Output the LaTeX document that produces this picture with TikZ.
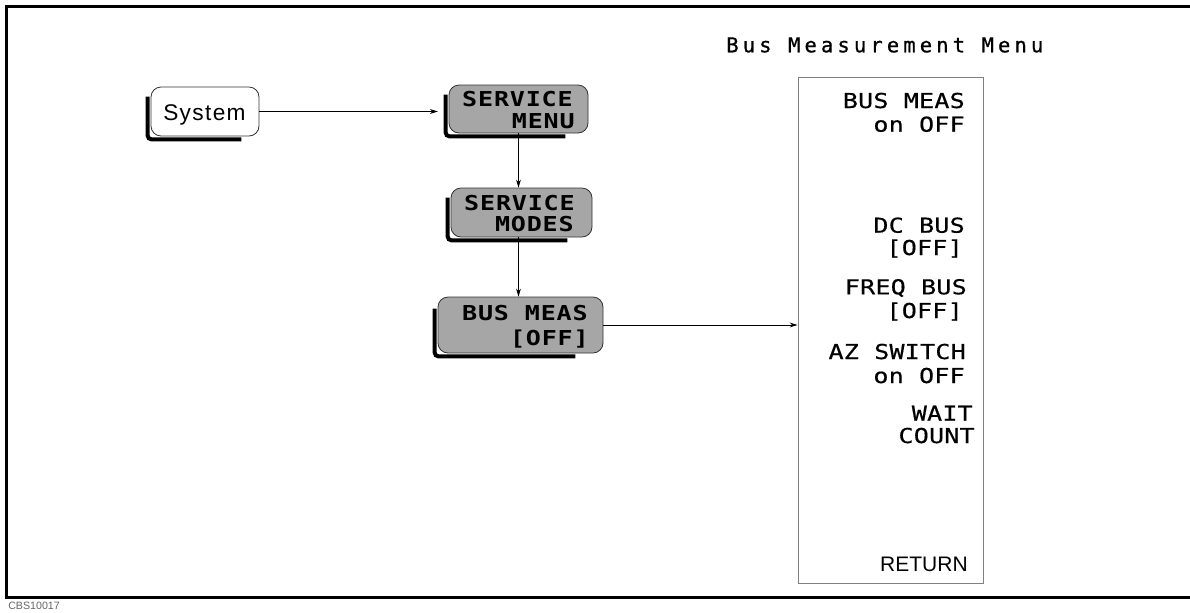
\documentclass[tikz,border=0pt]{standalone}
\usepackage{fontspec}
\usetikzlibrary{arrows.meta,calc}
\newfontfamily\hpmenu[FakeStretch=1.22,LetterSpace=1,FakeBold=0.5]{DejaVu Sans Mono}
\newfontfamily\hpkey[FakeStretch=1.22,LetterSpace=4]{DejaVu Sans Mono}
\newfontfamily\hptitle[LetterSpace=20,FakeBold=0.8]{DejaVu Sans Mono}
\newfontfamily\arialish{Liberation Sans}
\newfontfamily\sysfont[LetterSpace=6]{Liberation Sans}
\begin{document}
\begin{tikzpicture}[x=0.75pt,y=-0.75pt,
 keybox/.style={draw=black!80, line width=0.6pt, rounded corners=7.5pt, fill=black!35, inner sep=0pt},
 keyshadow/.style={line width=3pt, rounded corners=3pt},
 keytext/.style={inner sep=0pt, anchor=base east, font=\hpkey\bfseries\fontsize{15.4}{18}\selectfont},
 menutext/.style={inner sep=0pt, anchor=base east, font=\hpmenu\fontsize{15.4}{18}\selectfont},
 link/.style={line width=0.6pt, -{Stealth[length=6pt,width=3.6pt]}}]
\useasboundingbox (0,0) rectangle (1190,612);
\draw[line width=2.5pt] (1190,6.7) -- (6.7,6.7) -- (6.7,597.7) -- (1190,597.7);

% keys
\node[keybox, fill=white, minimum width=81pt, minimum height=36.75pt] (sys) at (205,111.5) {};
\node[keybox, minimum width=104.25pt, minimum height=36pt] (smenu) at (518.5,109) {};
\node[keybox, minimum width=105.75pt, minimum height=36.75pt] (smodes) at (521.5,212.5) {};
\node[keybox, minimum width=123.75pt, minimum height=42pt] (bmeas) at (520.5,325) {};
\draw[keyshadow] ($(sys.north west)+(-3,10)$) -- ($(sys.south west)+(-3,3)$) -- ($(sys.south east)+(-18,3)$);
\draw[keyshadow] ($(smenu.north west)+(-3,10)$) -- ($(smenu.south west)+(-3,3)$) -- ($(smenu.south east)+(-23,3)$);
\draw[keyshadow] ($(smodes.north west)+(-3,10)$) -- ($(smodes.south west)+(-3,3)$) -- ($(smodes.south east)+(-25,3)$);
\draw[keyshadow] ($(bmeas.north west)+(-3,12)$) -- ($(bmeas.south west)+(-3,3)$) -- ($(bmeas.south east)+(-28,3)$);

% menu box
\node[draw=black!50, line width=0.6pt, minimum width=138.75pt, minimum height=379.5pt, inner sep=0pt] (menu) at (890.5,330) {};

% texts
\node[inner sep=0pt, anchor=base west, font=\sysfont\fontsize{17}{20}\selectfont] (systxt) at (163,120) {System};
\node[keytext] (k1a) at (573,106.7) {SERVICE};
\node[keytext] (k1b) at (575,128.3) {MENU};
\node[keytext] (k2a) at (575,210.7) {SERVICE};
\node[keytext] (k2b) at (574,231.7) {MODES};
\node[keytext] (k3a) at (588,320) {BUS MEAS};
\node[keytext] (k3b) at (589,345) {{[}OFF{]}};

\node[inner sep=0pt, anchor=base west, font=\hptitle\fontsize{15.4}{18}\selectfont] (title) at (726,52.3) {Bus Measurement Menu};

\node[menutext] (m1a) at (965,108) {BUS MEAS};
\node[menutext] (m1b) at (965,131.7) {on OFF};
\node[menutext] (m2a) at (965,232.7) {DC BUS};
\node[menutext] (m2b) at (963,255) {{[}OFF{]}};
\node[menutext] (m3a) at (967,294.3) {FREQ BUS};
\node[menutext] (m3b) at (963,318) {{[}OFF{]}};
\node[menutext] (m4a) at (966,359) {AZ SWITCH};
\node[menutext] (m4b) at (965,383) {on OFF};
\node[menutext] (m5a) at (973,420.7) {WAIT};
\node[menutext] (m5b) at (975,443) {COUNT};
\node[inner sep=0pt, anchor=base east, font=\arialish\fontsize{15.75}{18}\selectfont] (m6) at (968,571.7) {RETURN};

\node[inner sep=0pt, anchor=base west, text=black!60, font=\arialish\fontsize{8}{9}\selectfont] (code) at (8,609) {CBS10017};

% connectors
\draw[link, shorten >=8pt] (sys.east) -- (sys.east -| smenu.west);
\draw[link] (smenu.south) -- (smodes.north -| smenu.south);
\draw[link] (smodes.south -| smenu.south) -- (bmeas.north -| smenu.south);
\draw[link] (bmeas.east) -- (bmeas.east -| menu.west);
\end{tikzpicture}
\end{document}
